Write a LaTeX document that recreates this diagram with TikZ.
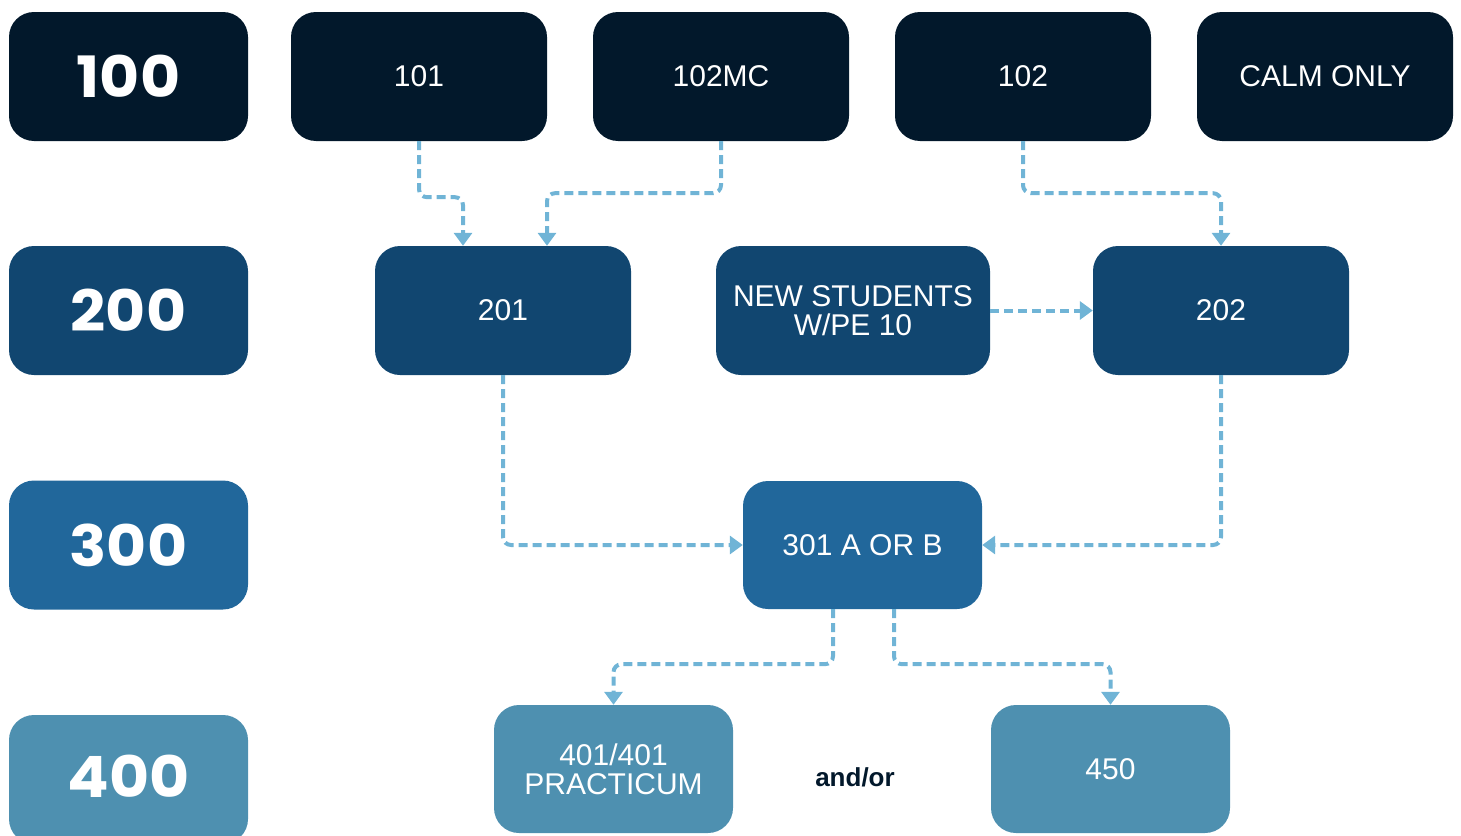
\documentclass[tikz,border=0pt]{standalone}
\usepackage{fontspec}
\usepackage{graphicx}
\setmainfont{Liberation Sans}
\newfontfamily\headfont{Poppins}
\usetikzlibrary{arrows.meta,calc}
\definecolor{lvA}{HTML}{02182B}
\definecolor{lvB}{HTML}{114670}
\definecolor{lvC}{HTML}{21679B}
\definecolor{lvD}{HTML}{4E90B0}
\definecolor{conn}{HTML}{70B4D6}
\definecolor{ink}{HTML}{02182B}
\newcommand{\headtxt}[1]{\scalebox{1.08}[1]{#1}}
\tikzset{
  box/.style={rectangle, rounded corners=25pt, text=white, align=center,
    minimum height=129pt, inner sep=0pt, font=\fontsize{30}{29}\selectfont},
  head/.style={box, minimum width=239pt, font=\headfont\bfseries\fontsize{57}{57}\selectfont},
  wide/.style={box, minimum width=256pt},
  mid/.style={box, minimum width=239pt},
  link/.style={draw=conn, line width=4pt, dash pattern=on 9pt off 5pt,
    rounded corners=8pt, -{Triangle[width=18pt,length=13pt]}},
}
\begin{document}
\begin{tikzpicture}[x=1pt,y=-1pt]
\useasboundingbox (0,0) rectangle (1461,835);
% level headers
\node[head, fill=lvA] (h100) at (128.5,76.5) {\headtxt{100}};
\node[head, fill=lvB] (h200) at (128.5,310.5) {\headtxt{200}};
\node[head, fill=lvC] (h300) at (128.5,545) {\headtxt{300}};
\node[head, fill=lvD, minimum height=129pt] (h400) at (128.5,779.5) {};
\node[font=\headfont\bfseries\fontsize{57}{57}\selectfont, text=white] (t400) at (128.5,776) {\headtxt{400}};
% 100 level
\node[wide, fill=lvA] (n101) at (419,76.5) {101};
\node[wide, fill=lvA] (n102mc) at (721,76.5) {102MC};
\node[wide, fill=lvA] (n102) at (1023,76.5) {102};
\node[wide, fill=lvA] (calm) at (1325,76.5) {CALM ONLY};
% 200 level
\node[wide, fill=lvB] (n201) at (503,310.5) {201};
\node[box, fill=lvB, minimum width=274pt] (news) at (853,310.5) {NEW STUDENTS\\W/PE 10};
\node[wide, fill=lvB] (n202) at (1221,310.5) {202};
% 300 level
\node[mid, fill=lvC, minimum height=128pt] (n301) at (862.5,545) {301 A OR B};
% 400 level
\node[mid, fill=lvD, minimum height=128pt] (n401) at (613.5,769) {401/401\\PRACTICUM};
\node[mid, fill=lvD, minimum height=128pt] (n450) at (1110.5,769) {450};
\node[font=\bfseries\fontsize{26}{26}\selectfont, text=ink] (andor) at (855,777) {and/or};
% connectors
\draw[link] (n101.south) -- ++(0,56) -| ([xshift=-40pt]n201.north);
\draw[link] (n102mc.south) -- ++(0,52) -| ([xshift=44pt]n201.north);
\draw[link] (n102.south) -- ++(0,52) -| (n202.north);
\draw[link] (news.east) -- (n202.west);
\draw[link] (n201.south) |- (n301.west);
\draw[link] (n202.south) |- (n301.east);
\draw[link] ([xshift=-29.5pt]n301.south) -- ++(0,55) -| (n401.north);
\draw[link] ([xshift=31.5pt]n301.south) -- ++(0,55) -| (n450.north);
\end{tikzpicture}
\end{document}
